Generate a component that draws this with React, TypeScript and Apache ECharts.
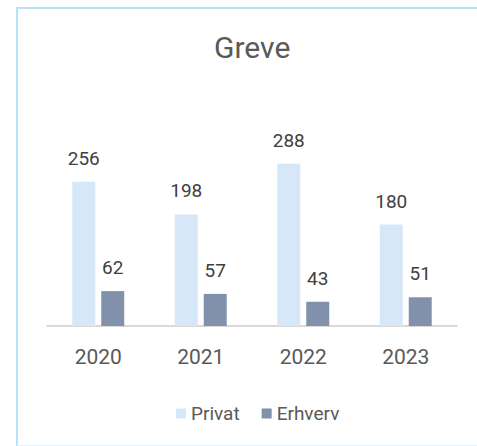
import React, { useEffect, useRef } from "react";
import * as echarts from "echarts";

const categories = ["2020", "2021", "2022", "2023"];
const privat = [256, 198, 288, 180];
const erhverv = [62, 57, 43, 51];
const titleText = "Greve";
const seriesNames = ["Privat", "Erhverv"];

const FONT = "Roboto, 'Noto Sans', sans-serif";

export default function App() {
  const ref = useRef<HTMLDivElement>(null);
  useEffect(() => {
    document.body.style.margin = "0";
    const chart = echarts.init(ref.current!, null, { renderer: "svg" });
    chart.setOption({
      animation: false,
      backgroundColor: "#ffffff",
      textStyle: { fontFamily: FONT },
      title: {
        text: titleText,
        left: 209,
        top: 27,
        textStyle: { fontSize: 30, fontWeight: "normal", color: "#595959", fontFamily: FONT },
      },
      legend: {
        data: seriesNames,
        left: 171,
        top: 399,
        itemWidth: 10,
        itemHeight: 10,
        itemGap: 22,
        icon: "rect",
        textStyle: { fontSize: 19, color: "#595959", fontFamily: FONT },
      },
      grid: { left: 47, right: 20, top: 157, bottom: 120 },
      xAxis: {
        type: "category",
        data: categories,
        axisTick: { show: false },
        axisLine: { lineStyle: { color: "#D9D9D9", width: 2 } },
        axisLabel: { fontSize: 21, color: "#595959", margin: 20, fontFamily: FONT },
      },
      yAxis: {
        type: "value",
        min: 0,
        max: 300,
        show: false,
        splitLine: { show: false },
      },
      graphic: [
        { type: "line", shape: { x1: 17, y1: 8, x2: 477, y2: 8 }, style: { stroke: "#B8E2F9", lineWidth: 2 } },
        { type: "line", shape: { x1: 17, y1: 7, x2: 17, y2: 446 }, style: { stroke: "#B8E2F9", lineWidth: 2 } },
        { type: "line", shape: { x1: 17, y1: 445.5, x2: 477, y2: 445.5 }, style: { stroke: "#E6F3FC", lineWidth: 1 } },
      ],
      series: [
        {
          name: seriesNames[0],
          type: "bar",
          data: privat,
          barWidth: 23,
          barGap: "26%",
          itemStyle: { color: "#D6E8F7" },
          label: { show: true, position: "top", distance: 14, fontSize: 19, color: "#404040", fontFamily: FONT },
        },
        {
          name: seriesNames[1],
          type: "bar",
          data: erhverv,
          barWidth: 23,
          itemStyle: { color: "#8291AB" },
          label: { show: true, position: "top", distance: 14, fontSize: 19, color: "#404040", fontFamily: FONT },
        },
      ],
    });
    return () => chart.dispose();
  }, []);
  return <div ref={ref} style={{ width: 477, height: 446 }} />;
}
